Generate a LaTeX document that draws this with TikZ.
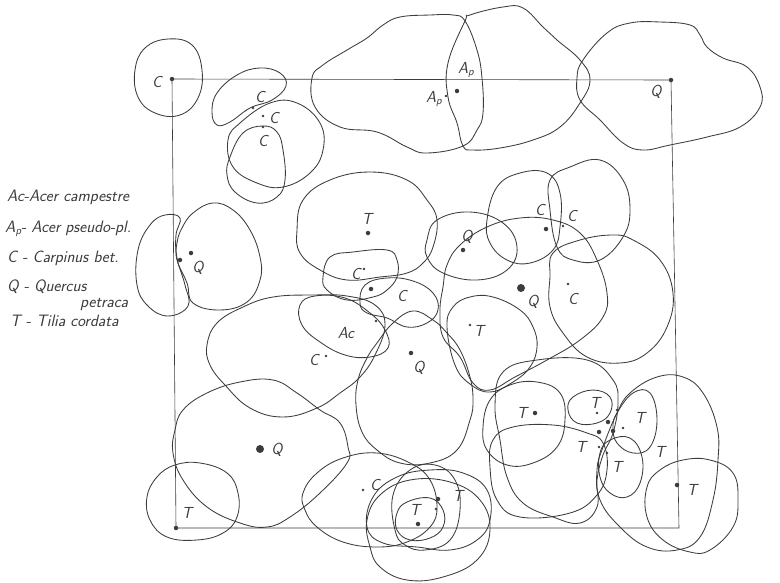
\documentclass[tikz,border=0pt]{standalone}
\usepackage{tikz}
\definecolor{ink}{HTML}{3C3C3C}
\newcommand\crownpath[1]{\draw[crown] plot[smooth cycle,tension=0.7] coordinates {#1};}
\begin{document}
\begin{tikzpicture}[x=1pt,y=-1pt,
  crown/.style={draw=ink,line width=0.85pt},
  frameline/.style={draw=ink,line width=0.6pt},
  lbl/.style={font=\sffamily\itshape\fontsize{16}{18}\selectfont,text=ink,inner sep=0pt},
  leg/.style={lbl,font=\sffamily\itshape\fontsize{16.5}{18}\selectfont,anchor=west},
  dots/.style={circle,fill=ink,inner sep=0pt,minimum size=2.6pt},
  dotm/.style={circle,fill=ink,inner sep=0pt,minimum size=4.5pt},
  dotl/.style={circle,fill=ink,inner sep=0pt,minimum size=8pt}]
\useasboundingbox[fill=white] (0,0) rectangle (780,582);
% square plot
\coordinate (tl) at (172,79);
\coordinate (tr) at (671,80);
\coordinate (br) at (679,528);
\coordinate (bl) at (176,528);
\draw[frameline] (tl) -- (tr) -- (br) -- (bl) -- cycle;
% crowns - top row
\crownpath{(135,70) (145,48) (168,39) (192,45) (202,70) (198,98) (180,115) (155,113) (138,97)}
\crownpath{(212,112) (217,93) (237,75) (260,68) (280,73) (286,86) (272,100) (250,108) (230,122) (217,125)}
\crownpath{(228,140) (240,123) (270,103) (297,103) (320,123) (323,150) (310,173) (283,187) (257,183) (233,167)}
\crownpath{(230,157) (227,175) (235,192) (257,203) (277,197) (285,180) (283,150) (277,132) (263,126) (243,133)}
\crownpath{(312,78) (323,65) (347,50) (367,38) (383,25) (400,17) (430,15) (453,15) (465,21) (477,50) (482,78) (483,113) (477,130) (463,146) (427,153) (407,147) (377,132) (340,127) (315,107)}
\crownpath{(465,21) (470,15) (503,7) (523,8) (543,27) (557,40) (580,60) (590,80) (580,103) (560,127) (533,140) (500,148) (473,150) (463,146) (457,123) (448,97) (448,63)}
\crownpath{(577,78) (583,60) (607,33) (630,23) (660,22) (690,25) (700,35) (707,47) (723,58) (747,67) (760,87) (760,107) (740,127) (707,137) (670,145) (643,150) (623,143) (600,120) (580,100)}
% left Q pair
\crownpath{(180,218) (165,215) (150,225) (138,250) (137,285) (148,306) (168,316) (188,306) (185,285) (177,258) (176,235)}
\crownpath{(182,228) (193,213) (213,203) (233,210) (250,230) (260,257) (260,280) (247,302) (220,310) (193,303) (187,283) (177,260) (177,243)}
% middle
\crownpath{(297,230) (303,200) (330,180) (370,172) (407,180) (427,200) (437,220) (433,247) (423,263) (407,273) (380,277) (347,280) (320,270) (300,253)}
\crownpath{(323,277) (330,257) (353,252) (387,250) (397,260) (397,277) (387,290) (373,297) (347,300) (327,290)}
\crownpath{(360,303) (365,285) (387,278) (413,281) (433,293) (438,310) (427,323) (407,327) (387,318) (367,313)}
\crownpath{(300,305) (315,296) (345,298) (370,313) (385,330) (388,348) (370,357) (345,355) (320,342) (302,325)}
\crownpath{(207,345) (217,323) (243,307) (273,297) (313,295) (347,296) (375,305) (385,325) (375,355) (360,377) (340,393) (317,408) (283,417) (250,408) (225,385) (210,365)}
\crownpath{(358,380) (367,358) (377,343) (393,323) (413,311) (433,320) (447,333) (460,350) (470,377) (473,400) (470,420) (457,450) (430,463) (400,463) (377,450) (362,432) (356,405)}
\crownpath{(427,240) (437,220) (470,212) (503,223) (517,247) (507,270) (477,280) (443,273) (427,257)}
\crownpath{(443,287) (447,265) (460,245) (487,227) (520,218) (553,220) (580,233) (597,260) (607,293) (603,317) (580,340) (547,360) (515,377) (490,390) (473,383) (460,357) (443,337) (440,310)}
\crownpath{(447,327) (453,307) (470,297) (493,297) (520,310) (533,327) (537,347) (530,367) (513,382) (490,392) (470,384) (455,365)}
\crownpath{(487,220) (497,187) (520,173) (547,173) (560,193) (560,227) (553,250) (530,263) (507,260) (490,243)}
\crownpath{(550,180) (570,167) (600,160) (623,180) (630,210) (623,237) (600,260) (573,260) (557,247) (550,210)}
\crownpath{(550,277) (553,253) (580,240) (613,235) (633,240) (660,260) (673,293) (667,327) (647,353) (620,363) (587,357) (563,333) (550,307)}
% lower left
\crownpath{(175,430) (183,410) (207,393) (240,382) (273,380) (297,393) (320,410) (340,423) (348,447) (347,463) (320,493) (290,517) (267,527) (240,523) (207,507) (183,480) (173,453)}
\crownpath{(157,477) (175,465) (200,463) (227,473) (238,493) (237,517) (223,533) (197,540) (167,537) (150,520) (147,497)}
% bottom middle
\crownpath{(303,493) (317,473) (343,458) (377,453) (410,463) (430,480) (437,507) (430,527) (407,542) (377,547) (343,542) (317,527) (305,510)}
\crownpath{(367,527) (373,497) (397,477) (430,470) (463,473) (487,490) (490,520) (477,540) (450,550) (417,547) (383,543)}
\crownpath{(370,547) (367,520) (380,495) (410,480) (450,482) (480,500) (490,530) (477,560) (443,577) (407,580) (380,567)}
\crownpath{(397,513) (407,502) (430,498) (443,510) (443,527) (430,538) (410,540) (397,530)}
\crownpath{(395,530) (393,495) (410,470) (435,465) (455,480) (460,510) (450,540) (425,550) (405,545)}
% right cluster
\crownpath{(483,427) (490,400) (510,385) (537,382) (560,393) (565,420) (557,447) (533,463) (507,465) (487,450)}
\crownpath{(495,405) (503,372) (537,360) (587,360) (613,380) (618,403) (613,433) (603,455) (597,480) (597,507) (580,523) (553,517) (523,503) (507,477) (500,440)}
\crownpath{(490,467) (493,440) (513,427) (553,425) (587,433) (603,443) (607,470) (597,495) (570,513) (520,517) (497,500)}
\crownpath{(568,410) (573,397) (593,390) (610,397) (610,413) (597,423) (577,423)}
\crownpath{(613,427) (617,413) (633,393) (650,393) (657,420) (650,447) (633,453) (617,443)}
\crownpath{(600,477) (600,453) (610,440) (630,438) (642,457) (640,483) (627,497) (610,493)}
\crownpath{(603,447) (617,413) (630,393) (657,377) (683,377) (703,393) (717,427) (718,460) (713,500) (700,537) (677,550) (647,547) (620,527) (600,500) (597,470)}
\crownpath{(647,487) (660,470) (683,460) (710,460) (733,473) (738,500) (733,527) (710,550) (690,552) (663,540) (647,517)}
% tree positions (dots)
\node[dotm] (p1) at (172,79) {};
\node[dotm] (p2) at (671,80) {};
\node[dotm] (p3) at (176,528) {};
\node[dotm] (p4) at (677,485) {};
\node[dots] (p5) at (253,108) {};
\node[dots] (p6) at (263,116) {};
\node[dots] (p7) at (263,127) {};
\node[dotm] (p8) at (457,91) {};
\node[dots] (p9) at (446,96) {};
\node[dotm] (p10) at (180,260) {};
\node[dotm] (p11) at (191,253) {};
\node[dotm] (p12) at (368,233) {};
\node[dots] (p13) at (364,269) {};
\node[dotm] (p14) at (371,289) {};
\node[dots] (p15) at (376,321) {};
\node[dots] (p16) at (326,356) {};
\node[dotm] (p17) at (411,353) {};
\node[dotm] (p18) at (463,250) {};
\node[dotl] (p19) at (521,288) {};
\node[dots] (p20) at (470,325) {};
\node[dotm] (p21) at (546,229) {};
\node[dots] (p22) at (563,226) {};
\node[dots] (p23) at (568,284) {};
\node[dotl] (p24) at (260,449) {};
\node[dots] (p25) at (363,490) {};
\node[dotm] (p26) at (418,524) {};
\node[dotm] (p27) at (438,499) {};
\node[dots] (p28) at (436,509) {};
\node[dotm] (p29) at (535,413) {};
\node[dots] (p30) at (597,413) {};
\node[dots] (p31) at (617,410) {};
\node[dotm] (p32) at (608,422) {};
\node[dotm] (p33) at (599,432) {};
\node[dotm] (p34) at (613,431) {};
\node[dots] (p35) at (623,428) {};
\node[dots] (p36) at (599,447) {};
\node[dots] (p37) at (607,453) {};
% crown labels
\node[lbl] (l1) at (157,82) {C};
\node[lbl] (l2) at (260,97) {C};
\node[lbl] (l3) at (274,118) {C};
\node[lbl] (l4) at (263,141) {C};
\node[lbl] (l5) at (466,70) {A\raisebox{-2.5pt}{\fontsize{11}{11}\selectfont p}};
\node[lbl] (l6) at (434,99) {A\raisebox{-2.5pt}{\fontsize{11}{11}\selectfont p}};
\node[lbl] (l7) at (656,92) {Q};
\node[lbl] (l8) at (198,268) {Q};
\node[lbl] (l9) at (367,219) {T};
\node[lbl] (l10) at (356,274) {C};
\node[lbl] (l11) at (402,296) {C};
\node[lbl] (l12) at (346,333) {Ac};
\node[lbl] (l13) at (314,360) {C};
\node[lbl] (l14) at (419,368) {Q};
\node[lbl] (l15) at (467,237) {Q};
\node[lbl] (l16) at (533,302) {Q};
\node[lbl] (l17) at (479,331) {T};
\node[lbl] (l18) at (540,210) {C};
\node[lbl] (l19) at (572,216) {C};
\node[lbl] (l20) at (573,299) {C};
\node[lbl] (l21) at (277,450) {Q};
\node[lbl] (l22) at (187,513) {T};
\node[lbl] (l23) at (375,485) {C};
\node[lbl] (l24) at (415,510) {T};
\node[lbl] (l25) at (458,496) {T};
\node[lbl] (l26) at (522,413) {T};
\node[lbl] (l27) at (595,403) {T};
\node[lbl] (l28) at (640,418) {T};
\node[lbl] (l29) at (581,447) {T};
\node[lbl] (l30) at (660,452) {T};
\node[lbl] (l31) at (617,467) {T};
\node[lbl] (l32) at (692,490) {T};
% legend
\node[leg] (g1) at (7,197) {Ac-Acer campestre};
\node[leg] (g2) at (5,229) {A\raisebox{-2.5pt}{\fontsize{11}{11}\selectfont p}- Acer pseudo-pl.};
\node[leg] (g3) at (7,258) {C - Carpinus bet.};
\node[leg] (g4) at (7,287) {Q - Quercus};
\node[leg] (g5) at (80,305) {petraca};
\node[leg] (g6) at (10,321) {T - Tilia cordata};
\end{tikzpicture}
\end{document}
